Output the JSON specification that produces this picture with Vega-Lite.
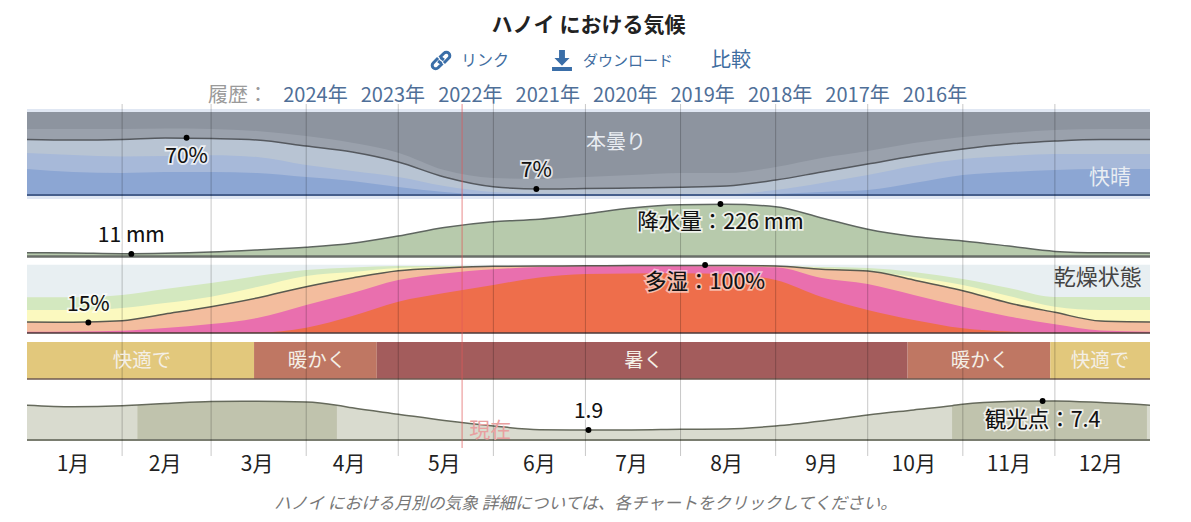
{
"$schema":"https://vega.github.io/schema/vega-lite/v6.json",
"padding":{"left":24,"right":44,"top":0,"bottom":0},
"background":"#ffffff",
"spacing":0,
"bounds":"flush",
"config":{"font":"Noto Sans CJK JP","view":{"stroke":null}},
"resolve":{"scale":{"color":"independent"}},
"datasets":{
"grid":[{"doy":31},{"doy":60},{"doy":91},{"doy":121},{"doy":152},{"doy":182},{"doy":213},{"doy":244},{"doy":274},{"doy":305},{"doy":335}],
"now":[{"doy":141.8}],
"base":[{"doy":0,"end":366,"zero":0}],
"cloud":[
{"doy":0,"overcast":100,"mostly_cloudy":79.5,"partly_cloudy":66.9,"mostly_clear":50.6,"clear":31.3},
{"doy":15,"overcast":100,"mostly_cloudy":79.5,"partly_cloudy":66.3,"mostly_clear":48.2,"clear":27.7},
{"doy":31,"overcast":100,"mostly_cloudy":79.5,"partly_cloudy":66.9,"mostly_clear":46.4,"clear":26.5},
{"doy":45,"overcast":100,"mostly_cloudy":80,"partly_cloudy":68.7,"mostly_clear":47,"clear":27.7},
{"doy":60,"overcast":100,"mostly_cloudy":79.5,"partly_cloudy":68,"mostly_clear":48,"clear":27.7},
{"doy":75,"overcast":100,"mostly_cloudy":77,"partly_cloudy":66.3,"mostly_clear":45.8,"clear":26.5},
{"doy":91,"overcast":100,"mostly_cloudy":71,"partly_cloudy":59,"mostly_clear":36.1,"clear":21.7},
{"doy":106,"overcast":100,"mostly_cloudy":63,"partly_cloudy":51.8,"mostly_clear":28.9,"clear":16.9},
{"doy":121,"overcast":100,"mostly_cloudy":51,"partly_cloudy":39.8,"mostly_clear":21.7,"clear":9.6},
{"doy":136,"overcast":100,"mostly_cloudy":30,"partly_cloudy":21.7,"mostly_clear":10.8,"clear":3.6},
{"doy":152,"overcast":100,"mostly_cloudy":20.5,"partly_cloudy":10,"mostly_clear":3.6,"clear":0},
{"doy":167,"overcast":100,"mostly_cloudy":19.3,"partly_cloudy":7.2,"mostly_clear":1.8,"clear":0},
{"doy":182,"overcast":100,"mostly_cloudy":21.7,"partly_cloudy":7.8,"mostly_clear":1.2,"clear":0},
{"doy":197,"overcast":100,"mostly_cloudy":24,"partly_cloudy":8.4,"mostly_clear":1.2,"clear":0},
{"doy":213,"overcast":100,"mostly_cloudy":26.5,"partly_cloudy":9.3,"mostly_clear":1.2,"clear":0},
{"doy":228,"overcast":100,"mostly_cloudy":26.5,"partly_cloudy":10.8,"mostly_clear":1.2,"clear":0},
{"doy":244,"overcast":100,"mostly_cloudy":33.7,"partly_cloudy":18,"mostly_clear":6,"clear":1.2},
{"doy":259,"overcast":100,"mostly_cloudy":44.6,"partly_cloudy":27.7,"mostly_clear":14.5,"clear":3.6},
{"doy":274,"overcast":100,"mostly_cloudy":53,"partly_cloudy":37.3,"mostly_clear":24.1,"clear":6},
{"doy":289,"overcast":100,"mostly_cloudy":62.7,"partly_cloudy":47,"mostly_clear":34.9,"clear":14.5},
{"doy":305,"overcast":100,"mostly_cloudy":70,"partly_cloudy":55.4,"mostly_clear":43.4,"clear":24.1},
{"doy":320,"overcast":100,"mostly_cloudy":74.7,"partly_cloudy":61.4,"mostly_clear":47,"clear":27.7},
{"doy":335,"overcast":100,"mostly_cloudy":78.3,"partly_cloudy":65,"mostly_clear":49.4,"clear":30.1},
{"doy":350,"overcast":100,"mostly_cloudy":79.5,"partly_cloudy":66.9,"mostly_clear":49.4,"clear":31.3},
{"doy":366,"overcast":100,"mostly_cloudy":79.5,"partly_cloudy":66.9,"mostly_clear":49.4,"clear":31.3}],
"precip":[
{"doy":0,"mm":16},{"doy":15,"mm":15},{"doy":31,"mm":12},{"doy":45,"mm":13.8},{"doy":60,"mm":19},{"doy":75,"mm":28},{"doy":91,"mm":39.6},{"doy":106,"mm":56.8},{"doy":121,"mm":88},{"doy":136,"mm":125},{"doy":152,"mm":150},{"doy":167,"mm":160},{"doy":182,"mm":183},{"doy":197,"mm":209},{"doy":213,"mm":223},{"doy":228,"mm":225},{"doy":244,"mm":214},{"doy":259,"mm":166},{"doy":274,"mm":117},{"doy":289,"mm":86},{"doy":305,"mm":67},{"doy":320,"mm":45},{"doy":335,"mm":22},{"doy":350,"mm":16},{"doy":366,"mm":15}],
"humid":[
{"doy":0,"dry":100.4,"comfortable":52.5,"humid":33.8,"muggy":16.2,"oppressive":1.9,"miserable":0.4},
{"doy":15,"dry":100.4,"comfortable":52.5,"humid":33.8,"muggy":15.9,"oppressive":2.2,"miserable":0.4},
{"doy":31,"dry":100.4,"comfortable":55.9,"humid":36.8,"muggy":18.1,"oppressive":3.4,"miserable":0.4},
{"doy":45,"dry":100.4,"comfortable":64.7,"humid":44.1,"muggy":27.9,"oppressive":7.4,"miserable":0.4},
{"doy":60,"dry":100.4,"comfortable":73.5,"humid":53.4,"muggy":38.7,"oppressive":13.2,"miserable":0.4},
{"doy":75,"dry":100.4,"comfortable":83.8,"humid":67.6,"muggy":51.5,"oppressive":22.1,"miserable":0.7},
{"doy":91,"dry":100.4,"comfortable":92.6,"humid":83.8,"muggy":68.1,"oppressive":41.2,"miserable":7.8},
{"doy":106,"dry":100.4,"comfortable":96.3,"humid":89.7,"muggy":80.9,"oppressive":58.8,"miserable":25},
{"doy":121,"dry":100.4,"comfortable":98.5,"humid":95.6,"muggy":91.6,"oppressive":77.9,"miserable":46},
{"doy":136,"dry":100.4,"comfortable":98.5,"humid":97,"muggy":95.6,"oppressive":87.5,"miserable":58.8},
{"doy":152,"dry":100.4,"comfortable":98.5,"humid":98.5,"muggy":98.1,"oppressive":93.7,"miserable":70.6},
{"doy":167,"dry":100.4,"comfortable":98.5,"humid":98.5,"muggy":98.5,"oppressive":97,"miserable":81.6},
{"doy":182,"dry":100.4,"comfortable":98.8,"humid":98.8,"muggy":98.8,"oppressive":98.5,"miserable":86.8},
{"doy":197,"dry":100.4,"comfortable":99.3,"humid":99.3,"muggy":99.3,"oppressive":98.5,"miserable":87.5},
{"doy":213,"dry":100.4,"comfortable":99.3,"humid":99.3,"muggy":99.3,"oppressive":98.5,"miserable":87.8},
{"doy":228,"dry":100.4,"comfortable":99.3,"humid":99.3,"muggy":99.3,"oppressive":97.8,"miserable":86.8},
{"doy":244,"dry":100.4,"comfortable":98.5,"humid":98.5,"muggy":98.5,"oppressive":96.6,"miserable":77.9},
{"doy":259,"dry":100.4,"comfortable":97,"humid":95.6,"muggy":93.7,"oppressive":80.9,"miserable":52.9},
{"doy":274,"dry":100.4,"comfortable":95.6,"humid":91.2,"muggy":91.2,"oppressive":72,"miserable":33.8},
{"doy":289,"dry":100.4,"comfortable":89.7,"humid":82.4,"muggy":77.9,"oppressive":55.9,"miserable":19.1},
{"doy":305,"dry":100.4,"comfortable":79.4,"humid":70.6,"muggy":62.2,"oppressive":38.7,"miserable":6.9},
{"doy":320,"dry":100.4,"comfortable":66.2,"humid":54.4,"muggy":44.1,"oppressive":24.3,"miserable":2.2},
{"doy":335,"dry":100.4,"comfortable":52.9,"humid":38.7,"muggy":30.4,"oppressive":12.8,"miserable":0.4},
{"doy":350,"dry":100.4,"comfortable":52.9,"humid":33.8,"muggy":17.6,"oppressive":3.7,"miserable":0.4},
{"doy":366,"dry":100.4,"comfortable":52.9,"humid":33.8,"muggy":16.2,"oppressive":1.9,"miserable":0.4}],
"tourism":[
{"doy":0,"score":6.6},{"doy":15,"score":6.3},{"doy":31,"score":6.5},{"doy":36,"score":6.65},{"doy":45,"score":6.9},{"doy":60,"score":7.3},{"doy":75,"score":7.35},{"doy":91,"score":7.2},{"doy":101,"score":6.6},{"doy":106,"score":6.1},{"doy":121,"score":4.9},{"doy":136,"score":3.7},{"doy":152,"score":2.66},{"doy":167,"score":1.95},{"doy":182,"score":1.9},{"doy":197,"score":1.9},{"doy":213,"score":2.03},{"doy":228,"score":2.09},{"doy":244,"score":2.66},{"doy":259,"score":3.6},{"doy":274,"score":4.74},{"doy":289,"score":5.7},{"doy":301.5,"score":6.5},{"doy":305,"score":6.77},{"doy":320,"score":7.3},{"doy":335,"score":7.4},{"doy":350,"score":7.1},{"doy":365,"score":6.65},{"doy":366,"score":6.6}],
"temp":[{"doy":0,"end":74,"temp":"快適で"},{"doy":74,"end":114,"temp":"暖かく"},{"doy":114,"end":287,"temp":"暑く"},{"doy":287,"end":333.5,"temp":"暖かく"},{"doy":333.5,"end":366,"temp":"快適で"}],
"tempLabels":[{"doy":37.5,"label":"快適で"},{"doy":94.5,"label":"暖かく"},{"doy":201,"label":"暑く"},{"doy":310.6,"label":"暖かく"},{"doy":349.7,"label":"快適で"}],
"months":[{"doy":15,"label":"1月","row":"months"},{"doy":45,"label":"2月","row":"months"},{"doy":75,"label":"3月","row":"months"},{"doy":105,"label":"4月","row":"months"},{"doy":136,"label":"5月","row":"months"},{"doy":167,"label":"6月","row":"months"},{"doy":197,"label":"7月","row":"months"},{"doy":228,"label":"8月","row":"months"},{"doy":259,"label":"9月","row":"months"},{"doy":289,"label":"10月","row":"months"},{"doy":320,"label":"11月","row":"months"},{"doy":350,"label":"12月","row":"months"}]
},
"vconcat":[
{"width":1123,"height":104,
"resolve":{"scale":{"x":"independent"}},
"layer":[
{"data":{"values":[{"row":"title","label":"ハノイ における気候"}]},
 "mark":{"type":"text","fontSize":21,"fontWeight":"bold","color":"#222222"},
 "encoding":{"y":{"field":"row","type":"ordinal","axis":null,"scale":{"type":"point","domain":["title","links","history"],"range":[26,95],"padding":0}},"text":{"field":"label"}}},
{"data":{"values":[{"row":"links","label":"リンク"}]},
 "mark":{"type":"text","fontSize":16,"color":"#3f6d9f"},
 "encoding":{"x":{"field":"label","type":"nominal","axis":null,"sort":null,"scale":{"type":"point","domain":["リンク","ダウンロード","比較"],"range":[458,704],"padding":0}},"y":{"field":"row","type":"ordinal","axis":null,"scale":{"type":"point","domain":["title","links","history"],"range":[26,95],"padding":0}},"text":{"field":"label"}}},
{"data":{"values":[{"row":"links","label":"比較"}]},
 "mark":{"type":"text","fontSize":20,"color":"#3f6d9f"},
 "encoding":{"x":{"field":"label","type":"nominal","axis":null,"sort":null,"scale":{"type":"point","domain":["リンク","ダウンロード","比較"],"range":[458,704],"padding":0}},"y":{"field":"row","type":"ordinal","axis":null,"scale":{"type":"point","domain":["title","links","history"],"range":[26,95],"padding":0}},"text":{"field":"label"}}},
{"data":{"values":[{"row":"links","label":"ダウンロード"}]},
 "mark":{"type":"text","fontSize":15,"color":"#3f6d9f","dx":20},
 "encoding":{"x":{"field":"label","type":"nominal","axis":null,"sort":null,"scale":{"type":"point","domain":["リンク","ダウンロード","比較"],"range":[458,704],"padding":0}},"y":{"field":"row","type":"ordinal","axis":null,"scale":{"type":"point","domain":["title","links","history"],"range":[26,95],"padding":0}},"text":{"field":"label"}}},
{"data":{"values":[{"row":"links","label":"リンク"}]},
 "mark":{"type":"point","filled":false,"stroke":"#3a6ea8","strokeWidth":3,"size":380,"xOffset":-44,"opacity":1,"shape":"M-0.15,-0.3 L0.3,-0.75 A0.35,0.35 0 0 1 0.8,-0.25 L0.3,0.25 M0.15,0.3 L-0.3,0.75 A0.35,0.35 0 0 1 -0.8,0.25 L-0.3,-0.25 M-0.3,0.05 L0.05,0.3 M0.3,-0.05 L-0.05,-0.3"},
 "encoding":{"x":{"field":"label","type":"nominal","axis":null,"sort":null,"scale":{"type":"point","domain":["リンク","ダウンロード","比較"],"range":[458,704],"padding":0}},"y":{"field":"row","type":"ordinal","axis":null,"scale":{"type":"point","domain":["title","links","history"],"range":[26,95],"padding":0}}}},
{"data":{"values":[{"row":"links","label":"ダウンロード"}]},
 "mark":{"type":"point","filled":true,"fill":"#3a6ea8","size":440,"xOffset":-46,"opacity":1,"shape":"M-0.28,-1 L0.28,-1 L0.28,-0.25 L0.72,-0.25 L0,0.5 L-0.72,-0.25 L-0.28,-0.25 Z M-0.95,0.62 L0.95,0.62 L0.95,1 L-0.95,1 Z"},
 "encoding":{"x":{"field":"label","type":"nominal","axis":null,"sort":null,"scale":{"type":"point","domain":["リンク","ダウンロード","比較"],"range":[458,704],"padding":0}},"y":{"field":"row","type":"ordinal","axis":null,"scale":{"type":"point","domain":["title","links","history"],"range":[26,95],"padding":0}}}},
{"data":{"values":[{"row":"history","label":"履歴：","kind":"caption"},{"row":"history","label":"2024年","kind":"year"},{"row":"history","label":"2023年","kind":"year"},{"row":"history","label":"2022年","kind":"year"},{"row":"history","label":"2021年","kind":"year"},{"row":"history","label":"2020年","kind":"year"},{"row":"history","label":"2019年","kind":"year"},{"row":"history","label":"2018年","kind":"year"},{"row":"history","label":"2017年","kind":"year"},{"row":"history","label":"2016年","kind":"year"}]},
 "mark":{"type":"text","fontSize":20,"dy":1},
 "encoding":{"x":{"field":"label","type":"nominal","axis":null,"sort":null,"scale":{"type":"point","domain":["履歴：","2024年","2023年","2022年","2021年","2020年","2019年","2018年","2017年","2016年"],"range":[211,908],"padding":0}},"y":{"field":"row","type":"ordinal","axis":null,"scale":{"type":"point","domain":["title","links","history"],"range":[26,95],"padding":0}},"text":{"field":"label"},"color":{"field":"kind","type":"nominal","legend":null,"scale":{"domain":["caption","year"],"range":["#9a9a9a","#4f6f98"]}}}}
]},
{"width":1123,"height":96,
"encoding":{"x":{"field":"doy","type":"quantitative","axis":null,"scale":{"domain":[0,366],"nice":false,"zero":false}}},
"layer":[
{"data":{"values":[{"doy":0,"upper":103.6,"lower":-4.8},{"doy":366,"upper":103.6,"lower":-4.8}]},"mark":{"type":"area","color":"#e0e7f3"},"encoding":{"y":{"field":"upper","type":"quantitative","axis":null,"scale":{"domain":[-6.02,109.64],"nice":false}},"y2":{"field":"lower"}}},
{"data":{"name":"cloud"},"transform":[{"fold":["overcast","mostly_cloudy","partly_cloudy","mostly_clear","clear"],"as":["level","pct"]}],
 "mark":{"type":"area","interpolate":"monotone"},
 "encoding":{"y":{"field":"pct","type":"quantitative","stack":null,"axis":null,"scale":{"domain":[-6.02,109.64],"nice":false}},"y2":{"datum":0},"color":{"field":"level","type":"nominal","legend":null,"sort":null,"scale":{"domain":["overcast","mostly_cloudy","partly_cloudy","mostly_clear","clear"],"range":["#8d949f","#9aa1ac","#b8c4d3","#a7b9d9","#8ca6d3"]}}}},
{"data":{"name":"cloud"},"mark":{"type":"line","color":"#55595f","strokeWidth":1.5,"interpolate":"monotone"},"encoding":{"y":{"field":"partly_cloudy","type":"quantitative","axis":null,"scale":{"domain":[-6.02,109.64],"nice":false}}}},
{"data":{"name":"base"},"mark":{"type":"rule","color":"#465f8c","strokeWidth":2},"encoding":{"x2":{"field":"end"},"y":{"field":"zero","type":"quantitative","axis":null,"scale":{"domain":[-6.02,109.64],"nice":false}}}},
{"data":{"name":"grid"},"mark":{"type":"rule","color":"#000000","opacity":0.22,"strokeWidth":1},"encoding":{}},
{"data":{"name":"now"},"mark":{"type":"rule","color":"#e05a5a","opacity":0.7,"strokeWidth":1},"encoding":{}},
{"data":{"values":[{"doy":52,"pct":69},{"doy":166,"pct":7.2}]},"mark":{"type":"circle","color":"#000000","size":34,"opacity":1},"encoding":{"y":{"field":"pct","type":"quantitative","axis":null,"scale":{"domain":[-6.02,109.64],"nice":false}}}},
{"data":{"values":[{"doy":52,"pct":69,"label":"70%"}]},"mark":{"type":"text","fontSize":21,"dy":19,"stroke":"#ffffff","strokeWidth":3.5,"strokeOpacity":0.75},"encoding":{"y":{"field":"pct","type":"quantitative","axis":null,"scale":{"domain":[-6.02,109.64],"nice":false}},"text":{"field":"label"}}},
{"data":{"values":[{"doy":52,"pct":69,"label":"70%"}]},"mark":{"type":"text","fontSize":21,"dy":19,"color":"#111111"},"encoding":{"y":{"field":"pct","type":"quantitative","axis":null,"scale":{"domain":[-6.02,109.64],"nice":false}},"text":{"field":"label"}}},
{"data":{"values":[{"doy":166,"pct":7.2,"label":"7%"}]},"mark":{"type":"text","fontSize":21,"dy":-18,"stroke":"#ffffff","strokeWidth":3.5,"strokeOpacity":0.75},"encoding":{"y":{"field":"pct","type":"quantitative","axis":null,"scale":{"domain":[-6.02,109.64],"nice":false}},"text":{"field":"label"}}},
{"data":{"values":[{"doy":166,"pct":7.2,"label":"7%"}]},"mark":{"type":"text","fontSize":21,"dy":-18,"color":"#111111"},"encoding":{"y":{"field":"pct","type":"quantitative","axis":null,"scale":{"domain":[-6.02,109.64],"nice":false}},"text":{"field":"label"}}},
{"data":{"values":[{"doy":192,"pct":62.6,"label":"本曇り"}]},"mark":{"type":"text","fontSize":20,"color":"#e9edf2"},"encoding":{"y":{"field":"pct","type":"quantitative","axis":null,"scale":{"domain":[-6.02,109.64],"nice":false}},"text":{"field":"label"}}},
{"data":{"values":[{"doy":353,"pct":20.5,"label":"快晴"}]},"mark":{"type":"text","fontSize":21,"color":"#e9edf2"},"encoding":{"y":{"field":"pct","type":"quantitative","axis":null,"scale":{"domain":[-6.02,109.64],"nice":false}},"text":{"field":"label"}}}
]},
{"width":1123,"height":60,
"encoding":{"x":{"field":"doy","type":"quantitative","axis":null,"scale":{"domain":[0,366],"nice":false,"zero":false}}},
"layer":[
{"data":{"name":"precip"},"mark":{"type":"area","color":"#b7caac","interpolate":"monotone"},"encoding":{"y":{"field":"mm","type":"quantitative","axis":null,"scale":{"domain":[-15.07,243.2],"nice":false}},"y2":{"datum":0}}},
{"data":{"name":"precip"},"mark":{"type":"line","color":"#5f6660","strokeWidth":1.5,"interpolate":"monotone"},"encoding":{"y":{"field":"mm","type":"quantitative","axis":null,"scale":{"domain":[-15.07,243.2],"nice":false}}}},
{"data":{"name":"base"},"mark":{"type":"rule","color":"#6a6f6a","strokeWidth":2.5},"encoding":{"x2":{"field":"end"},"y":{"field":"zero","type":"quantitative","axis":null,"scale":{"domain":[-15.07,243.2],"nice":false}}}},
{"data":{"name":"grid"},"mark":{"type":"rule","color":"#000000","opacity":0.22,"strokeWidth":1},"encoding":{}},
{"data":{"name":"now"},"mark":{"type":"rule","color":"#e05a5a","opacity":0.7,"strokeWidth":1},"encoding":{}},
{"data":{"values":[{"doy":34,"mm":11},{"doy":226,"mm":226}]},"mark":{"type":"circle","color":"#000000","size":34,"opacity":1},"encoding":{"y":{"field":"mm","type":"quantitative","axis":null,"scale":{"domain":[-15.07,243.2],"nice":false}}}},
{"data":{"values":[{"doy":34,"mm":11,"label":"11 mm"}]},"mark":{"type":"text","fontSize":21,"dy":-18,"stroke":"#ffffff","strokeWidth":3.5,"strokeOpacity":0.75},"encoding":{"y":{"field":"mm","type":"quantitative","axis":null,"scale":{"domain":[-15.07,243.2],"nice":false}},"text":{"field":"label"}}},
{"data":{"values":[{"doy":34,"mm":11,"label":"11 mm"}]},"mark":{"type":"text","fontSize":21,"dy":-18,"color":"#111111"},"encoding":{"y":{"field":"mm","type":"quantitative","axis":null,"scale":{"domain":[-15.07,243.2],"nice":false}},"text":{"field":"label"}}},
{"data":{"values":[{"doy":226,"mm":226,"label":"降水量：226 mm"}]},"mark":{"type":"text","fontSize":21.5,"dy":19,"stroke":"#ffffff","strokeWidth":3.5,"strokeOpacity":0.75},"encoding":{"y":{"field":"mm","type":"quantitative","axis":null,"scale":{"domain":[-15.07,243.2],"nice":false}},"text":{"field":"label"}}},
{"data":{"values":[{"doy":226,"mm":226,"label":"降水量：226 mm"}]},"mark":{"type":"text","fontSize":21.5,"dy":19,"color":"#111111"},"encoding":{"y":{"field":"mm","type":"quantitative","axis":null,"scale":{"domain":[-15.07,243.2],"nice":false}},"text":{"field":"label"}}}
]},
{"width":1123,"height":82,
"encoding":{"x":{"field":"doy","type":"quantitative","axis":null,"scale":{"domain":[0,366],"nice":false,"zero":false}}},
"layer":[
{"data":{"name":"humid"},"transform":[{"fold":["dry","comfortable","humid","muggy","oppressive","miserable"],"as":["level","pct"]}],
 "mark":{"type":"area","interpolate":"monotone"},
 "encoding":{"y":{"field":"pct","type":"quantitative","stack":null,"axis":null,"scale":{"domain":[-13.24,107.35],"nice":false}},"y2":{"datum":0},"color":{"field":"level","type":"nominal","legend":null,"sort":null,"scale":{"domain":["dry","comfortable","humid","muggy","oppressive","miserable"],"range":["#e8eff2","#d3e8bf","#fbf9bf","#f3bd9e","#e96fae","#ee6e4b"]}}}},
{"data":{"name":"humid"},"mark":{"type":"line","color":"#5a5a50","strokeWidth":1.5,"interpolate":"monotone"},"encoding":{"y":{"field":"muggy","type":"quantitative","axis":null,"scale":{"domain":[-13.24,107.35],"nice":false}}}},
{"data":{"name":"base"},"mark":{"type":"rule","color":"#4a3a3a","strokeWidth":1.5},"encoding":{"x2":{"field":"end"},"y":{"field":"zero","type":"quantitative","axis":null,"scale":{"domain":[-13.24,107.35],"nice":false}}}},
{"data":{"name":"grid"},"mark":{"type":"rule","color":"#000000","opacity":0.22,"strokeWidth":1},"encoding":{}},
{"data":{"name":"now"},"mark":{"type":"rule","color":"#e05a5a","opacity":0.7,"strokeWidth":1},"encoding":{}},
{"data":{"values":[{"doy":20,"pct":15.4},{"doy":221,"pct":100}]},"mark":{"type":"circle","color":"#000000","size":34,"opacity":1},"encoding":{"y":{"field":"pct","type":"quantitative","axis":null,"scale":{"domain":[-13.24,107.35],"nice":false}}}},
{"data":{"values":[{"doy":20,"pct":15.4,"label":"15%"}]},"mark":{"type":"text","fontSize":21,"dy":-18,"stroke":"#ffffff","strokeWidth":3.5,"strokeOpacity":0.7},"encoding":{"y":{"field":"pct","type":"quantitative","axis":null,"scale":{"domain":[-13.24,107.35],"nice":false}},"text":{"field":"label"}}},
{"data":{"values":[{"doy":20,"pct":15.4,"label":"15%"}]},"mark":{"type":"text","fontSize":21,"dy":-18,"color":"#111111"},"encoding":{"y":{"field":"pct","type":"quantitative","axis":null,"scale":{"domain":[-13.24,107.35],"nice":false}},"text":{"field":"label"}}},
{"data":{"values":[{"doy":221,"pct":100,"label":"多湿：100%"}]},"mark":{"type":"text","fontSize":21.5,"dy":18,"stroke":"#ffffff","strokeWidth":3.5,"strokeOpacity":0.55},"encoding":{"y":{"field":"pct","type":"quantitative","axis":null,"scale":{"domain":[-13.24,107.35],"nice":false}},"text":{"field":"label"}}},
{"data":{"values":[{"doy":221,"pct":100,"label":"多湿：100%"}]},"mark":{"type":"text","fontSize":21.5,"dy":18,"color":"#111111"},"encoding":{"y":{"field":"pct","type":"quantitative","axis":null,"scale":{"domain":[-13.24,107.35],"nice":false}},"text":{"field":"label"}}},
{"data":{"values":[{"doy":349,"pct":81,"label":"乾燥状態"}]},"mark":{"type":"text","fontSize":22,"color":"#444444"},"encoding":{"y":{"field":"pct","type":"quantitative","axis":null,"scale":{"domain":[-13.24,107.35],"nice":false}},"text":{"field":"label"}}}
]},
{"width":1123,"height":37,
"encoding":{"x":{"field":"doy","type":"quantitative","axis":null,"scale":{"domain":[0,366],"nice":false,"zero":false}}},
"layer":[
{"data":{"name":"temp"},"mark":{"type":"rect"},"encoding":{"x2":{"field":"end"},"color":{"field":"temp","type":"nominal","legend":null,"scale":{"domain":["快適で","暖かく","暑く"],"range":["#e2c87c","#bf7763","#a35c5c"]}}}},
{"data":{"name":"base"},"mark":{"type":"rule","color":"#6e5a50","strokeWidth":1.5},"encoding":{"x2":{"field":"end"},"y":{"field":"zero","type":"quantitative","axis":null,"scale":{"domain":[0,1],"nice":false}}}},
{"data":{"name":"grid"},"mark":{"type":"rule","color":"#000000","opacity":0.22,"strokeWidth":1},"encoding":{}},
{"data":{"name":"now"},"mark":{"type":"rule","color":"#e05a5a","opacity":0.7,"strokeWidth":1},"encoding":{}},
{"data":{"name":"tempLabels"},"mark":{"type":"text","fontSize":19.5,"color":"#f4efe6"},"encoding":{"text":{"field":"label"}}}
]},
{"width":1123,"height":77,
"encoding":{"x":{"field":"doy","type":"quantitative","axis":null,"scale":{"domain":[0,366],"nice":false,"zero":false}}},
"layer":[
{"data":{"name":"tourism"},"mark":{"type":"area","color":"#d9dbcf","interpolate":"monotone"},"encoding":{"y":{"field":"score","type":"quantitative","axis":null,"scale":{"domain":[-3.04,11.57],"nice":false}},"y2":{"datum":0}}},
{"data":{"name":"tourism"},"transform":[{"filter":{"field":"doy","range":[36,101]}}],"mark":{"type":"area","color":"#c0c3ad","interpolate":"monotone"},"encoding":{"y":{"field":"score","type":"quantitative","axis":null,"scale":{"domain":[-3.04,11.57],"nice":false}},"y2":{"datum":0}}},
{"data":{"name":"tourism"},"transform":[{"filter":{"field":"doy","range":[301.5,365]}}],"mark":{"type":"area","color":"#c0c3ad","interpolate":"monotone"},"encoding":{"y":{"field":"score","type":"quantitative","axis":null,"scale":{"domain":[-3.04,11.57],"nice":false}},"y2":{"datum":0}}},
{"data":{"name":"tourism"},"mark":{"type":"line","color":"#666a5c","strokeWidth":1.5,"interpolate":"monotone"},"encoding":{"y":{"field":"score","type":"quantitative","axis":null,"scale":{"domain":[-3.04,11.57],"nice":false}}}},
{"data":{"name":"base"},"mark":{"type":"rule","color":"#7a7d70","strokeWidth":2},"encoding":{"x2":{"field":"end"},"y":{"field":"zero","type":"quantitative","axis":null,"scale":{"domain":[-3.04,11.57],"nice":false}}}},
{"data":{"name":"grid"},"mark":{"type":"rule","color":"#000000","opacity":0.22,"strokeWidth":1},"encoding":{}},
{"data":{"name":"now"},"mark":{"type":"rule","color":"#e05a5a","opacity":0.7,"strokeWidth":1},"encoding":{"y":{"datum":-1.52,"type":"quantitative","axis":null,"scale":{"domain":[-3.04,11.57],"nice":false}},"y2":{"datum":11.57}}},
{"data":{"values":[{"doy":151,"score":1.7,"label":"現在"}]},"mark":{"type":"text","fontSize":21,"color":"#e8a0a0"},"encoding":{"y":{"field":"score","type":"quantitative","axis":null,"scale":{"domain":[-3.04,11.57],"nice":false}},"text":{"field":"label"}}},
{"data":{"values":[{"doy":183,"score":1.9},{"doy":331,"score":7.4}]},"mark":{"type":"circle","color":"#000000","size":34,"opacity":1},"encoding":{"y":{"field":"score","type":"quantitative","axis":null,"scale":{"domain":[-3.04,11.57],"nice":false}}}},
{"data":{"values":[{"doy":183,"score":1.9,"label":"1.9"}]},"mark":{"type":"text","fontSize":21,"dy":-18,"stroke":"#ffffff","strokeWidth":3.5,"strokeOpacity":0.75},"encoding":{"y":{"field":"score","type":"quantitative","axis":null,"scale":{"domain":[-3.04,11.57],"nice":false}},"text":{"field":"label"}}},
{"data":{"values":[{"doy":183,"score":1.9,"label":"1.9"}]},"mark":{"type":"text","fontSize":21,"dy":-18,"color":"#111111"},"encoding":{"y":{"field":"score","type":"quantitative","axis":null,"scale":{"domain":[-3.04,11.57],"nice":false}},"text":{"field":"label"}}},
{"data":{"values":[{"doy":331,"score":7.4,"label":"観光点：7.4"}]},"mark":{"type":"text","fontSize":21.5,"dy":20,"stroke":"#ffffff","strokeWidth":3.5,"strokeOpacity":0.75},"encoding":{"y":{"field":"score","type":"quantitative","axis":null,"scale":{"domain":[-3.04,11.57],"nice":false}},"text":{"field":"label"}}},
{"data":{"values":[{"doy":331,"score":7.4,"label":"観光点：7.4"}]},"mark":{"type":"text","fontSize":21.5,"dy":20,"color":"#111111"},"encoding":{"y":{"field":"score","type":"quantitative","axis":null,"scale":{"domain":[-3.04,11.57],"nice":false}},"text":{"field":"label"}}}
]},
{"width":1123,"height":66,
"encoding":{"x":{"field":"doy","type":"quantitative","axis":null,"scale":{"domain":[0,366],"nice":false,"zero":false}},"y":{"field":"row","type":"ordinal","axis":null,"scale":{"type":"point","domain":["months","note"],"range":[9,48],"padding":0}},"text":{"field":"label"}},
"layer":[
{"data":{"name":"months"},"mark":{"type":"text","fontSize":21,"color":"#222222"}},
{"data":{"values":[{"doy":182,"row":"note","label":"ハノイ における月別の気象 詳細については、各チャートをクリックしてください。"}]},"mark":{"type":"text","fontSize":16.7,"fontStyle":"italic","color":"#777777"}}
]}
]
}
